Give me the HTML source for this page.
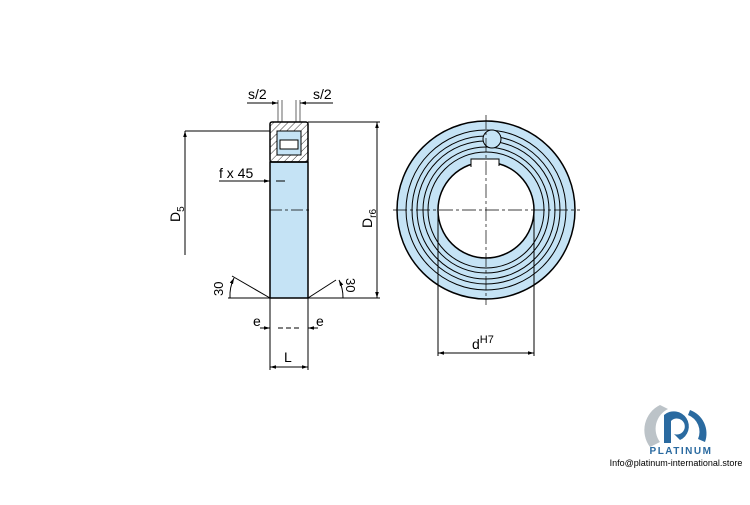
<!DOCTYPE html>
<html><head><style>body{margin:0;background:#fff}svg text{font-family:"Liberation Sans",sans-serif}</style></head><body>
<svg width="750" height="500" viewBox="0 0 750 500" xmlns="http://www.w3.org/2000/svg">
<defs>
<pattern id="h" width="5" height="5" patternUnits="userSpaceOnUse" patternTransform="rotate(45)"><line x1="0" y1="0" x2="0" y2="5" stroke="#000" stroke-width="0.8"/></pattern>
<marker id="a" viewBox="0 0 10 10" refX="10" refY="5" markerWidth="6" markerHeight="6" orient="auto-start-reverse"><path d="M0,2L10,5L0,8z" fill="#000"/></marker>
</defs>
<g stroke="#000" fill="none" stroke-width="1">
<rect x="270" y="162" width="38" height="136" fill="#c5e3f5" stroke-width="1.5"/>
<rect x="270" y="122" width="38" height="40" fill="url(#h)" rx="2" stroke-width="1.5"/>
<rect x="277" y="131" width="24" height="24" fill="#c5e3f5"/>
<rect x="280" y="140" width="18" height="9" fill="#fff"/>
<line x1="270" y1="210" x2="310" y2="210" stroke-dasharray="12,3,3,3" stroke-width="0.7"/>
<line x1="185" y1="131" x2="270" y2="131"/>
<line x1="185" y1="131" x2="185" y2="255" marker-start="url(#a)"/>
<line x1="308" y1="122" x2="380" y2="122"/><line x1="308" y1="298" x2="380" y2="298"/>
<line x1="377" y1="122" x2="377" y2="298" marker-start="url(#a)" marker-end="url(#a)"/>
<line x1="270" y1="298" x2="270" y2="370"/><line x1="308" y1="298" x2="308" y2="370"/>
<line x1="270" y1="367" x2="308" y2="367" marker-start="url(#a)" marker-end="url(#a)"/>
<line x1="260" y1="328" x2="270" y2="328" marker-end="url(#a)"/><line x1="278" y1="328" x2="300" y2="328" stroke-dasharray="5,3"/><line x1="318" y1="328" x2="308" y2="328" marker-end="url(#a)"/>
<line x1="219" y1="181" x2="270" y2="181" marker-end="url(#a)"/><line x1="276" y1="181" x2="285" y2="181"/>
<line x1="247" y1="103" x2="278" y2="103" marker-end="url(#a)"/><line x1="333" y1="103" x2="300" y2="103" marker-end="url(#a)"/>
<line x1="278" y1="100" x2="278" y2="122" stroke-width="0.6"/><line x1="282" y1="100" x2="282" y2="122" stroke-width="0.6"/>
<line x1="296" y1="100" x2="296" y2="122" stroke-width="0.6"/><line x1="300" y1="100" x2="300" y2="122" stroke-width="0.6"/>
<line x1="228" y1="298" x2="270" y2="298"/><line x1="270" y1="298" x2="232" y2="276"/>
<line x1="308" y1="298" x2="345" y2="298"/><line x1="308" y1="298" x2="336" y2="280"/>
<path d="M230,298 A40,40 0 0 1 234,278" marker-end="url(#a)"/>
<path d="M343,298 A40,40 0 0 0 339,280" marker-end="url(#a)"/>
<circle cx="486" cy="210" r="89" fill="#c5e3f5" stroke-width="1.5"/>
<circle cx="486" cy="210" r="80"/><circle cx="486" cy="210" r="74"/><circle cx="486" cy="210" r="69"/>
<circle cx="486" cy="210" r="63"/><circle cx="486" cy="210" r="58"/>
<circle cx="486" cy="210" r="48" fill="#fff" stroke-width="1.5"/>
<rect x="471" y="159" width="28" height="8" fill="#fff" stroke="none"/>
<path d="M471,167 L471,159 L499,159 L499,166"/>
<circle cx="492" cy="139" r="9" fill="#c5e3f5"/>
<line x1="393" y1="210" x2="580" y2="210" stroke-dasharray="14,3,3,3" stroke-width="0.7"/>
<line x1="486" y1="115" x2="486" y2="305" stroke-dasharray="14,3,3,3" stroke-width="0.7"/>
<line x1="438" y1="215" x2="438" y2="356"/><line x1="534" y1="215" x2="534" y2="356"/>
<line x1="438" y1="353" x2="534" y2="353" marker-start="url(#a)" marker-end="url(#a)"/>
</g>
<g font-size="14" fill="#000">
<text x="248" y="99">s/2</text><text x="313" y="99">s/2</text>
<text x="219" y="178">f x 45</text>
<text x="253" y="326">e</text><text x="316" y="326">e</text>
<text x="284" y="362">L</text>
<text x="472" y="349">d<tspan font-size="11" dy="-6">H7</tspan></text>
<text transform="translate(180,222) rotate(-90)">D<tspan font-size="10" dy="4">5</tspan></text>
<text transform="translate(372,228) rotate(-90)">D<tspan font-size="10" dy="4">r6</tspan></text>
<text transform="translate(223,296) rotate(-90)" font-size="13">30</text>
<text transform="translate(346,278) rotate(90)" font-size="13">30</text>
</g>
<path d="M650,447 A28,28 0 0 1 660,405 L668,409 A22,22 0 0 0 660,442z" fill="#bcc3c8"/>
<path d="M664,443 L664,415 A15,15 0 1 1 680,440 L674,434 A8,8 0 1 0 671,421 L671,443z" fill="#2a6aa0"/>
<path d="M690,410 A25,25 0 0 1 705,442 L698,439 A18,18 0 0 0 688,415z" fill="#2a6aa0"/>
<text x="681" y="454" font-size="10" font-weight="bold" fill="#2a6aa0" text-anchor="middle" letter-spacing="1.5">PLATINUM</text>
<text x="676" y="466" font-size="9" fill="#000" text-anchor="middle">Info@platinum-international.store</text>
</svg>
</body></html>
